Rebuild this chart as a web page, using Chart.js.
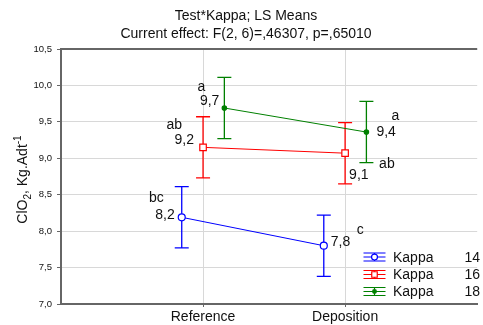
<!DOCTYPE html>
<html>
<head>
<meta charset="utf-8">
<script src="https://cdn.jsdelivr.net/npm/chart.js@4.4.1/dist/chart.umd.min.js"></script>
<style>
  html, body { margin: 0; padding: 0; background: #fff; }
  canvas { display: block; }
</style>
</head>
<body>
<canvas id="chart" width="483" height="325"></canvas>
<script>
// Test x Kappa interaction, least-squares means with error bars
const categories = ['Reference', 'Deposition'];
const seriesNames = ['Kappa', 'Kappa', 'Kappa'];
const seriesLevels = ['14', '16', '18'];
const kappa14 = [8.19, 7.80];
const kappa16 = [9.15, 9.07];
const kappa18 = [9.69, 9.36];
const kappa14Err = [0.42, 0.42];
const kappa16Err = [0.42, 0.42];
const kappa18Err = [0.42, 0.42];
const kappa14Groups = ['bc', 'c'];
const kappa16Groups = ['ab', 'ab'];
const kappa18Groups = ['a', 'a'];
const yTicks = [7.0, 7.5, 8.0, 8.5, 9.0, 9.5, 10.0, 10.5];
const titleLines = ['Test*Kappa; LS Means', 'Current effect: F(2, 6)=,46307, p=,65010'];

const FONT = "'Liberation Sans', Arial, sans-serif";
const fmt = v => (Math.round(v * 10) / 10).toFixed(1).replace('.', ',');

// styling per series: colour, marker, dodge, and where its annotations sit
const styles = [
  { color: '#0000ff', point: 'circle', radius: 3.5, fill: '#ffffff', dodge: -0.15,
    valueLab: [{ dx: -7, dy: -2, align: 'right' }, { dx: 7, dy: -4, align: 'left' }],
    groupLab: [{ dx: -18, dy: -19, align: 'right' }, { dx: 33, dy: -16, align: 'left' }] },
  { color: '#ff0000', point: 'rect', radius: 4.6, fill: '#ffffff', dodge: 0,
    valueLab: [{ dx: -9, dy: -7, align: 'right' }, { dx: 4, dy: 22, align: 'left' }],
    groupLab: [{ dx: -21, dy: -22, align: 'right' }, { dx: 34, dy: 11, align: 'left' }] },
  { color: '#008000', point: 'circle', radius: 2.2, fill: '#008000', dodge: 0.15,
    valueLab: [{ dx: -5, dy: -7, align: 'right' }, { dx: 10, dy: 0, align: 'left' }],
    groupLab: [{ dx: -19, dy: -21, align: 'right' }, { dx: 25, dy: -16, align: 'left' }] }
];

const means = [kappa14, kappa16, kappa18];
const errs = [kappa14Err, kappa16Err, kappa18Err];
const groups = [kappa14Groups, kappa16Groups, kappa18Groups];

const datasets = means.map((vals, s) => ({
  label: seriesNames[s] + ' ' + seriesLevels[s],
  data: vals.map((v, i) => ({ x: i + 1 + styles[s].dodge, y: v })),
  showLine: true,
  borderColor: styles[s].color,
  borderWidth: 1,
  pointStyle: styles[s].point,
  pointRadius: styles[s].radius,
  pointBorderWidth: 1.2,
  pointBorderColor: styles[s].color,
  pointBackgroundColor: styles[s].fill
}));

// vertical error bars with caps, drawn under the markers
const errorBars = {
  id: 'errorBars',
  beforeDatasetsDraw(chart) {
    const { ctx, scales: { x, y } } = chart;
    ctx.save();
    ctx.lineWidth = 1.3;
    means.forEach((vals, s) => {
      ctx.strokeStyle = styles[s].color;
      vals.forEach((v, i) => {
        const px = x.getPixelForValue(i + 1 + styles[s].dodge);
        const top = y.getPixelForValue(v + errs[s][i]);
        const bot = y.getPixelForValue(v - errs[s][i]);
        ctx.beginPath();
        ctx.moveTo(px, top); ctx.lineTo(px, bot);
        ctx.moveTo(px - 7, top); ctx.lineTo(px + 7, top);
        ctx.moveTo(px - 7, bot); ctx.lineTo(px + 7, bot);
        ctx.stroke();
      });
    });
    ctx.restore();
  }
};

// mean values and homogeneous-group letters beside each point
const pointLabels = {
  id: 'pointLabels',
  afterDatasetsDraw(chart) {
    const { ctx, scales: { x, y } } = chart;
    ctx.save();
    ctx.font = '14px ' + FONT;
    ctx.fillStyle = '#111';
    ctx.textBaseline = 'middle';
    means.forEach((vals, s) => {
      vals.forEach((v, i) => {
        const px = x.getPixelForValue(i + 1 + styles[s].dodge);
        const py = y.getPixelForValue(v);
        const a = styles[s].valueLab[i];
        ctx.textAlign = a.align;
        ctx.fillText(fmt(v), px + a.dx, py + a.dy);
        const g = styles[s].groupLab[i];
        ctx.textAlign = g.align;
        ctx.fillText(groups[s][i], px + g.dx, py + g.dy);
      });
    });
    ctx.restore();
  }
};

// title, top frame line, y-axis title with sub/superscript, and legend
const decorations = {
  id: 'decorations',
  afterDraw(chart) {
    const { ctx, chartArea } = chart;
    ctx.save();
    // top frame
    ctx.strokeStyle = '#666';
    ctx.lineWidth = 2;
    ctx.beginPath();
    ctx.moveTo(chartArea.left - 1, chartArea.top);
    ctx.lineTo(chartArea.right, chartArea.top);
    ctx.stroke();

    // title
    ctx.fillStyle = '#111';
    ctx.font = '14px ' + FONT;
    ctx.textAlign = 'center';
    ctx.textBaseline = 'alphabetic';
    ctx.fillText(titleLines[0], 246, 20);
    ctx.fillText(titleLines[1], 246, 38);

    // y-axis title: ClO2, Kg.Adt-1
    const cy = (chartArea.top + chartArea.bottom) / 2 + 3;
    ctx.translate(27, cy);
    ctx.rotate(-Math.PI / 2);
    const parts = [
      { t: 'ClO', size: 14, dy: 0 },
      { t: '2', size: 10, dy: 4 },
      { t: ', Kg.Adt', size: 14, dy: 0 },
      { t: '-1', size: 10, dy: -6 }
    ];
    let total = 0;
    parts.forEach(p => { ctx.font = p.size + 'px ' + FONT; p.w = ctx.measureText(p.t).width; total += p.w; });
    let cx = -total / 2;
    ctx.textAlign = 'left';
    parts.forEach(p => {
      ctx.font = p.size + 'px ' + FONT;
      ctx.fillText(p.t, cx, p.dy);
      cx += p.w;
    });
    ctx.setTransform(1, 0, 0, 1, 0, 0);

    // legend
    const rowY = [257, 274.5, 291.5];
    const ix = 374.5;
    styles.forEach((st, s) => {
      const yy = rowY[s];
      ctx.strokeStyle = st.color;
      ctx.lineWidth = 1.2;
      ctx.beginPath();
      ctx.moveTo(ix - 11, yy - 4); ctx.lineTo(ix + 11, yy - 4);
      ctx.moveTo(ix - 11, yy + 4); ctx.lineTo(ix + 11, yy + 4);
      ctx.moveTo(ix - 11, yy); ctx.lineTo(ix + 11, yy);
      ctx.moveTo(ix, yy - 4); ctx.lineTo(ix, yy + 4);
      ctx.stroke();
      ctx.fillStyle = st.fill;
      ctx.strokeStyle = st.color;
      Chart.helpers.drawPoint(ctx, { pointStyle: st.point, radius: st.radius * 0.85, borderWidth: 1.2 }, ix, yy);
      ctx.fillStyle = '#111';
      ctx.font = '14px ' + FONT;
      ctx.textBaseline = 'middle';
      ctx.textAlign = 'left';
      ctx.fillText(seriesNames[s], 393, yy + 1);
      ctx.textAlign = 'right';
      ctx.fillText(seriesLevels[s], 480, yy + 1);
    });
    ctx.restore();
  }
};

new Chart(document.getElementById('chart'), {
  type: 'scatter',
  data: { datasets },
  options: {
    responsive: false,
    animation: false,
    layout: { padding: { top: 49, left: 0, right: 0, bottom: 0 } },
    plugins: { legend: { display: false }, tooltip: { enabled: false }, title: { display: false } },
    scales: {
      x: {
        type: 'linear', min: 0, max: 2.93,
        afterBuildTicks: s => { s.ticks = categories.map((c, i) => ({ value: i + 1 })); },
        afterFit: s => { s.height = 21; },
        ticks: {
          callback: v => categories[v - 1] || '',
          font: { family: FONT, size: 14 }, color: '#111', padding: 2,
          maxRotation: 0, autoSkip: false
        },
        grid: { color: '#d8d8d8', lineWidth: 1, tickColor: '#666', tickLength: 3 },
        border: { color: '#666', width: 2 }
      },
      y: {
        min: 7, max: 10.5,
        afterBuildTicks: s => { s.ticks = yTicks.map(v => ({ value: v })); },
        afterFit: s => { s.width = 61; },
        ticks: {
          callback: v => v.toFixed(1).replace('.', ','),
          font: { family: FONT, size: 9.5 }, color: '#111', padding: 5
        },
        grid: { color: '#d8d8d8', lineWidth: 1, tickColor: '#666', tickLength: 4 },
        border: { color: '#666', width: 2 }
      }
    }
  },
  plugins: [errorBars, pointLabels, decorations]
});
</script>
</body>
</html>
